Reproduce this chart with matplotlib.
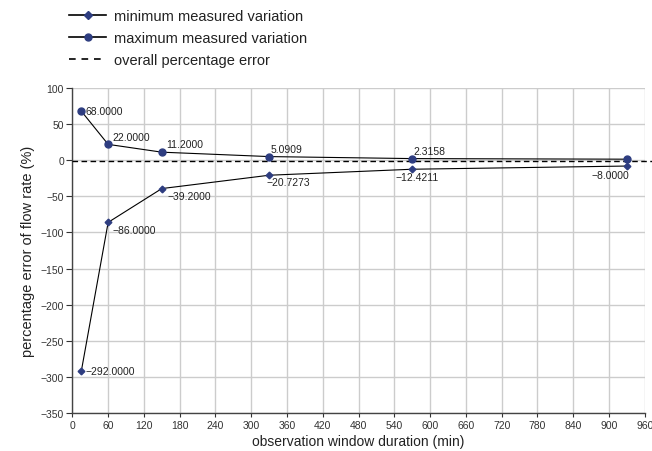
import numpy as np
import matplotlib
matplotlib.use('Agg')
import matplotlib.pyplot as plt
from matplotlib.lines import Line2D

plt.rcParams['font.family'] = ['Liberation Sans Narrow', 'Liberation Sans', 'DejaVu Sans']

# data
duration = [15, 60, 150, 330, 570, 930]
max_var = [68.0, 22.0, 11.2, 5.0909, 2.3158, 1.5]
min_var = [-292.0, -86.0, -39.2, -20.7273, -12.4211, -8.0]
overall_err = -1.5
max_labels = ['68.0000', '22.0000', '11.2000', '5.0909', '2.3158', None]
min_labels = ['\u2212292.0000', '\u221286.0000', '\u221239.2000', '\u221220.7273', '\u221212.4211', '\u22128.0000']

navy = '#2e3d80'

fig = plt.figure(figsize=(6.52, 4.52), dpi=100)
ax = fig.add_axes([0.111, 0.084, 0.878, 0.719])

ax.plot(duration, max_var, color='black', linewidth=0.8, marker='o', markersize=5,
        markerfacecolor=navy, markeredgecolor=navy, zorder=4)
ax.plot(duration, min_var, color='black', linewidth=0.8, marker='D', markersize=3.4,
        markerfacecolor=navy, markeredgecolor=navy, zorder=4)
ax.plot([0, 980], [overall_err, overall_err], color='black', linestyle=(0, (4, 2.5)),
        linewidth=1.0, zorder=3, clip_on=False)

# label offsets in points (dx, dy, ha, va)
max_off = [(3, 0, 'left', 'center'), (3, 2, 'left', 'bottom'), (3, 2, 'left', 'bottom'),
           (1, 2, 'left', 'bottom'), (1, 2, 'left', 'bottom')]
min_off = [(3, 0, 'left', 'center'), (3, -2, 'left', 'top'), (4, -2, 'left', 'top'),
           (-2, -1, 'left', 'top'), (-12, -2, 'left', 'top'), (2, -3, 'right', 'top')]
for i, lab in enumerate(max_labels):
    if lab is None:
        continue
    dx, dy, ha, va = max_off[i]
    ax.annotate(lab, (duration[i], max_var[i]), xytext=(dx, dy), textcoords='offset points',
                ha=ha, va=va, fontsize=7.5, color='#222222', zorder=5)
for i, lab in enumerate(min_labels):
    dx, dy, ha, va = min_off[i]
    ax.annotate(lab, (duration[i], min_var[i]), xytext=(dx, dy), textcoords='offset points',
                ha=ha, va=va, fontsize=7.5, color='#222222', zorder=5)

ax.set_xlim(0, 960)
ax.set_ylim(-350, 100)
ax.set_xticks(np.arange(0, 961, 60))
ax.set_yticks(np.arange(-350, 101, 50))
ax.set_yticklabels([str(v).replace('-', '\u2212') for v in range(-350, 101, 50)])
ax.tick_params(axis='both', labelsize=7.5, direction='out', length=4, width=0.8, colors='#333333')
ax.tick_params(axis='y', pad=2)
ax.tick_params(axis='x', length=3, pad=2)
ax.grid(True, color='#cccccc', linewidth=1.0)
ax.set_axisbelow(True)
for s in ['top', 'right']:
    ax.spines[s].set_visible(False)
for s in ['left', 'bottom']:
    ax.spines[s].set_color('#444444')
    ax.spines[s].set_linewidth(1.0)

ax.set_xlabel('observation window duration (min)', fontsize=10, color='#222222', labelpad=3)
ax.set_ylabel('percentage error of flow rate (%)', fontsize=10.5, color='#222222', labelpad=4)

handles = [
    Line2D([], [], color='black', linewidth=1.2, marker='D', markersize=4,
           markerfacecolor=navy, markeredgecolor=navy),
    Line2D([], [], color='black', linewidth=1.2, marker='o', markersize=5,
           markerfacecolor=navy, markeredgecolor=navy),
    Line2D([], [], color='black', linewidth=1.2, linestyle=(0, (4, 3.5))),
]
fig.legend(handles, ['minimum measured variation', 'maximum measured variation',
                     'overall percentage error'],
           loc='upper left', bbox_to_anchor=(0.085, 1.007), frameon=False, fontsize=10.5,
           handlelength=2.6, handletextpad=0.5, labelspacing=0.55, labelcolor='#222222')

fig.savefig('out.png', dpi=100)
